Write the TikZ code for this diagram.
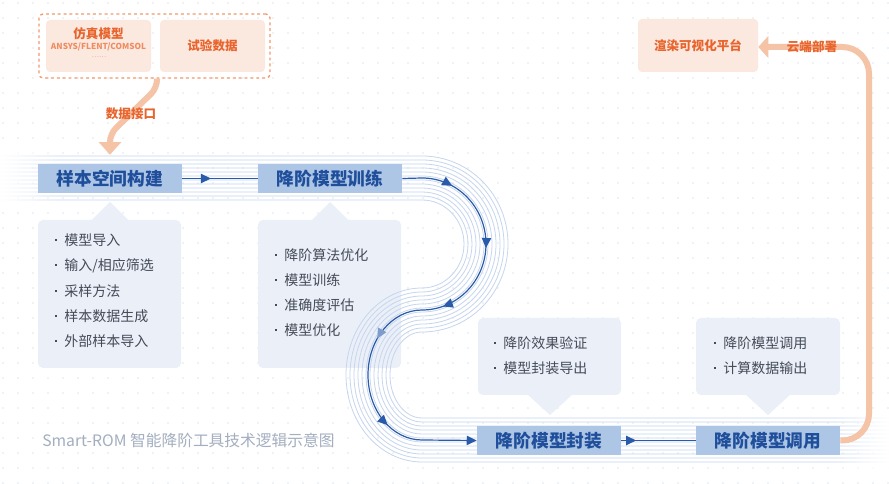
\documentclass[tikz,border=0pt]{standalone}
\usepackage{fontspec}
\setmainfont{Noto Sans CJK SC}
\usetikzlibrary{arrows.meta,decorations.markings,fadings,calc}
\definecolor{boxfill}{HTML}{AEC6E6}
\definecolor{boxtext}{HTML}{1F4E9B}
\definecolor{callfill}{HTML}{EBF0F8}
\definecolor{itemtext}{HTML}{454B57}
\definecolor{bandline}{HTML}{C6D6EE}
\definecolor{pathblue}{HTML}{2A5BAA}
\definecolor{orangetext}{HTML}{E8642C}
\definecolor{orangelight}{HTML}{EE8C60}
\definecolor{peach}{HTML}{FBE8DF}
\definecolor{orangeline}{HTML}{F5C3A6}
\definecolor{dashorange}{HTML}{F2996C}
\definecolor{dotgray}{HTML}{E2E7EE}
\definecolor{captiongray}{HTML}{A3AEBF}
\tikzfading[name=fadeleft, left color=transparent!0, right color=transparent!100]
\tikzfading[name=faderight, left color=transparent!100, right color=transparent!0]
\newcommand{\bul}{\raisebox{0.32em}{\rule{1.5pt}{1.5pt}}\hspace{5.3pt}}
\begin{document}
\begin{tikzpicture}[x=0.75pt,y=-0.75pt,
  stagebox/.style={fill=boxfill, text=boxtext, minimum width=108pt, minimum height=21.75pt, inner sep=0pt, font=\fontsize{13.3}{16}\selectfont\bfseries},
  callbody/.style={fill=callfill, rounded corners=3.75pt, inner sep=0pt},
  peachbox/.style={fill=peach, rounded corners=3pt, inner sep=0pt, minimum width=78.75pt, minimum height=39pt},
  orangelabel/.style={text=orangetext, font=\fontsize{9.4}{11}\selectfont\bfseries, inner sep=0pt},
  item/.style={anchor=west, text=itemtext, font=\fontsize{10.5}{12}\selectfont, inner sep=0pt},
  band/.style={draw=bandline, line width=0.6pt},
  pathline/.style={draw=pathblue, line width=0.9pt},
  orangeflow/.style={draw=orangeline, line width=4.5pt},
]
\useasboundingbox (0,0) rectangle (889,484);
\fill[white] (0,0) rectangle (889,484);
% dot grid
\foreach \x in {3,18,...,888}{
  \foreach \y in {3,18,...,483}{
    \fill[dotgray] (\x,\y) circle[radius=0.9];
  }
}
% callouts
\node[callbody, minimum width=107.25pt, minimum height=111pt] (c1) at (109.5,294) {};
\fill[callfill] (91,221) -- (110,202) -- (129,221) -- cycle;
\node[callbody, minimum width=107.25pt, minimum height=111pt] (c2) at (329.5,294) {};
\fill[callfill] (311,221) -- (330,202) -- (349,221) -- cycle;
\node[callbody, minimum width=107.25pt, minimum height=57.75pt] (c3) at (549.5,356.5) {};
\fill[callfill] (527,394) -- (550,415) -- (573,394) -- cycle;
\node[callbody, minimum width=108pt, minimum height=57.75pt] (c4) at (768,356.5) {};
\fill[callfill] (745,394) -- (768,415) -- (791,394) -- cycle;
% band
\foreach \d in {-22,-18,...,22}{
  \draw[band] (0,{178-\d}) -- (422,{178-\d})
    arc[start angle=-90, end angle=90, x radius={64+\d}, y radius={66+\d}]
    arc[start angle=270, end angle=90, x radius={54-\d}, y radius={65-\d}]
    -- (889,{440-\d});
}
\fill[white, path fading=fadeleft] (0,150) rectangle (60,206);
\fill[white, path fading=faderight] (835,412) rectangle (889,470);
% items
\node[item] (i11) at (55,240) {\bul 模型导入};
\node[item] (i12) at (55,265.5) {\bul 输入/相应筛选};
\node[item] (i13) at (55,291) {\bul 采样方法};
\node[item] (i14) at (55,316) {\bul 样本数据生成};
\node[item] (i15) at (55,341) {\bul 外部样本导入};
\node[item] (i21) at (275,255) {\bul 降阶算法优化};
\node[item] (i22) at (275,280) {\bul 模型训练};
\node[item] (i23) at (275,305) {\bul 准确度评估};
\node[item] (i24) at (275,330) {\bul 模型优化};
\node[item] (i31) at (494,343) {\bul 降阶效果验证};
\node[item] (i32) at (494,368) {\bul 模型封装导出};
\node[item] (i41) at (714,343) {\bul 降阶模型调用};
\node[item] (i42) at (714,368) {\bul 计算数据输出};
% stage boxes
\node[stagebox] (s1) at (110,178.5) {样本空间构建};
\node[stagebox] (s2) at (330,178.5) {降阶模型训练};
\node[stagebox] (s3) at (549,440.5) {降阶模型封装};
\node[stagebox] (s4) at (768,440.5) {降阶模型调用};
% blue flow
\draw[pathline, postaction={decorate}, decoration={markings,
  mark=at position 0.38 with {\arrow{Triangle[length=7.5pt,width=7pt]}}}] (s1.east) -- (s2.west);
\draw[pathline, -{Triangle[length=7.5pt,width=7pt]}, postaction={decorate}, decoration={markings,
  mark=at position 0.11 with {\arrow{Triangle[length=7.5pt,width=7pt]}},
  mark=at position 0.27 with {\arrow{Triangle[length=7.5pt,width=7pt]}},
  mark=at position 0.435 with {\arrow{Triangle[length=7.5pt,width=7pt]}},
  mark=at position 0.60 with {\arrow[pathblue!60]{Triangle[length=7.5pt,width=7pt]}},
  mark=at position 0.80 with {\arrow{Triangle[length=7.5pt,width=7pt]}}}]
  (s2.east) -- (422,178)
  arc[start angle=-90, end angle=90, x radius=64, y radius=66]
  arc[start angle=270, end angle=90, x radius=54, y radius=65]
  -- (s3.west);
\draw[pathline, postaction={decorate}, decoration={markings,
  mark=at position 0.2 with {\arrow{Triangle[length=7.5pt,width=7pt]}}}] (s3.east) -- (s4.west);
% source group
\node[draw=dashorange, dash pattern=on 2.2pt off 2.2pt, line width=1pt, rounded corners=3pt, minimum width=173.25pt, minimum height=48pt, inner sep=0pt] (src) at (154.5,46) {};
\node[peachbox] (sim) at (98.5,46) {};
\node[peachbox] (test) at (212.5,46) {};
\node[orangelabel] (simt) at (98.5,34) {仿真模型};
\node[text=orangelight, font=\fontsize{6.2}{7}\selectfont\bfseries, inner sep=0pt] (simsub) at (98.5,47) {ANSYS/FLENT/COMSOL};
\node[text=orangelight, font=\fontsize{5}{6}\selectfont, inner sep=0pt] (simdots) at (99,57) {……};
\node[orangelabel] (testt) at (test) {试验数据};
\draw[orangeflow, rounded corners=6, -{Triangle[length=9.5pt,width=16.5pt]}, shorten >=6.75pt]
  ($(src.south)+(2.5,0)$) -- (157,88) -- (110,134) -- (s1.north);
\node[orangelabel] (ifc) at (131,114) {数据接口};
% platform
\node[peachbox, minimum width=90pt, minimum height=39.75pt] (plat) at (698,45.5) {};
\node[orangelabel] (platt) at (plat) {渲染可视化平台};
\draw[orangeflow, rounded corners=20, -{Triangle[length=7.5pt,width=16pt]}]
  (s4.east) -- (869,440.5) -- (869,47) -- (plat.east |- 0,47);
\node[orangelabel] (cloud) at (812,47) {云端部署};
% caption
\node[anchor=west, text=captiongray, font=\fontsize{11.8}{14}\selectfont, inner sep=0pt] (cap) at (42,440) {Smart-ROM 智能降阶工具技术逻辑示意图};
\end{tikzpicture}
\end{document}
